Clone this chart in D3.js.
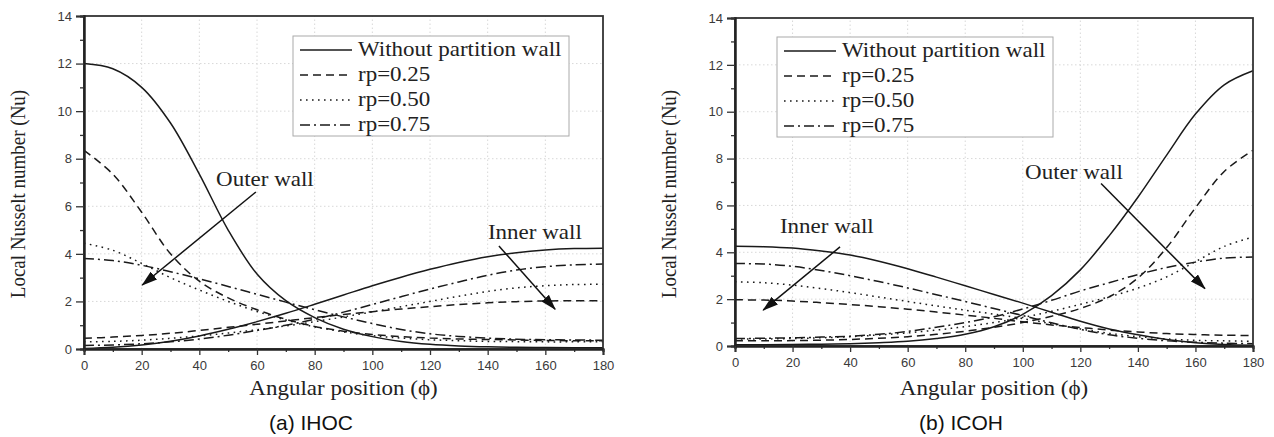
<!DOCTYPE html>
<html>
<head>
<meta charset="utf-8">
<script src="https://cdn.jsdelivr.net/npm/d3@7"></script>
<style>
  html, body { margin: 0; padding: 0; background: #fff; }
  svg { display: block; }
</style>
</head>
<body>
<svg id="chart" width="1274" height="437"></svg>
<script>
// ---------------- DATA ----------------
const angles = [0,10,20,30,40,50,60,70,80,90,100,110,120,130,140,150,160,170,180];
const xTicks = [0,20,40,60,80,100,120,140,160,180];
const yTicks = [0,2,4,6,8,10,12,14];
const seriesNames = ["Without partition wall","rp=0.25","rp=0.50","rp=0.75"];

// (a) IHOC
const ihocOuterNone = [12.0,11.78,11.0,9.5,7.35,5.0,3.15,2.03,1.32,0.83,0.52,0.32,0.2,0.13,0.09,0.07,0.06,0.05,0.05];
const ihocOuter025  = [8.35,7.35,5.75,4.0,2.85,2.15,1.65,1.25,0.95,0.75,0.61,0.52,0.46,0.42,0.4,0.38,0.36,0.35,0.35];
const ihocOuter050  = [4.45,4.15,3.6,3.0,2.48,2.0,1.58,1.22,0.93,0.72,0.56,0.46,0.39,0.35,0.32,0.31,0.3,0.3,0.3];
const ihocOuter075  = [3.8,3.72,3.52,3.25,2.95,2.63,2.3,1.97,1.65,1.35,1.07,0.82,0.64,0.53,0.46,0.41,0.39,0.38,0.37];
const ihocInnerNone = [0.02,0.07,0.17,0.33,0.55,0.83,1.15,1.5,1.88,2.27,2.66,3.02,3.35,3.64,3.88,4.05,4.16,4.22,4.24];
const ihocInner025  = [0.45,0.5,0.57,0.66,0.78,0.91,1.04,1.18,1.32,1.45,1.57,1.68,1.78,1.87,1.94,1.99,2.02,2.03,2.03];
const ihocInner050  = [0.3,0.32,0.37,0.45,0.55,0.67,0.81,0.97,1.15,1.35,1.56,1.78,2.0,2.22,2.42,2.57,2.66,2.71,2.72];
const ihocInner075  = [0.15,0.17,0.22,0.3,0.42,0.58,0.78,1.0,1.25,1.55,1.87,2.2,2.52,2.82,3.1,3.32,3.46,3.54,3.57];

// (b) ICOH
const icohOuterNone = [0.05,0.05,0.06,0.08,0.1,0.14,0.2,0.32,0.5,0.82,1.35,2.15,3.25,4.7,6.35,8.15,9.9,11.15,11.75];
const icohOuter025  = [0.22,0.22,0.23,0.25,0.28,0.33,0.4,0.5,0.63,0.8,1.0,1.27,1.6,2.1,2.9,4.2,5.9,7.45,8.35];
const icohOuter050  = [0.3,0.3,0.32,0.35,0.4,0.47,0.56,0.68,0.83,1.0,1.22,1.48,1.78,2.1,2.47,2.95,3.6,4.25,4.65];
const icohOuter075  = [0.32,0.33,0.35,0.38,0.42,0.5,0.62,0.8,1.0,1.25,1.58,1.95,2.35,2.7,3.05,3.35,3.58,3.75,3.8];
const icohInnerNone = [4.26,4.24,4.18,4.05,3.88,3.62,3.3,2.94,2.57,2.2,1.83,1.44,1.06,0.73,0.48,0.28,0.14,0.06,0.03];
const icohInner025  = [1.97,1.96,1.92,1.85,1.77,1.68,1.57,1.45,1.32,1.18,1.03,0.9,0.79,0.68,0.6,0.53,0.49,0.46,0.45];
const icohInner050  = [2.74,2.7,2.6,2.45,2.28,2.09,1.9,1.71,1.53,1.36,1.17,0.95,0.73,0.54,0.4,0.3,0.24,0.22,0.2];
const icohInner075  = [3.52,3.5,3.4,3.22,3.0,2.75,2.48,2.19,1.9,1.6,1.3,0.99,0.71,0.48,0.33,0.22,0.16,0.12,0.1];

// annotations: [label, textAngle, textValue, arrowFromAngle, arrowFromValue, arrowToAngle, arrowToValue]
const ihocNotes = [
  ["Outer wall", 45.8, 6.85, 59.6, 6.6, 20.2, 2.69],
  ["Inner wall", 140.1, 4.62, 143.9, 4.33, 163.4, 1.67]
];
const icohNotes = [
  ["Inner wall", 15.6, 4.83, 36.5, 4.23, 9.8, 1.53],
  ["Outer wall", 100.8, 7.11, 127.2, 6.94, 163.3, 2.45]
];

// ---------------- DRAW ----------------
const svg = d3.select("#chart");
const dashes = [null, "8,5", "1.6,4.4", "10,4,2,4"];
const SERIF = "'Liberation Serif','Times New Roman',serif";
const SANS = "'Liberation Sans',Arial,sans-serif";
const STRETCH = 1.15;

const defs = svg.append("defs");
defs.append("marker")
  .attr("id","arrowhead")
  .attr("viewBox","0 0 16 10")
  .attr("refX",15).attr("refY",5)
  .attr("markerWidth",16).attr("markerHeight",10)
  .attr("markerUnits","userSpaceOnUse")
  .attr("orient","auto")
  .append("path").attr("d","M0,0 L16,5 L0,10 Z").attr("fill","#111");

function stretchedText(g, x, y, txt, size, anchor) {
  return g.append("text")
    .attr("transform", `translate(${x},${y}) scale(${STRETCH},1)`)
    .attr("text-anchor", anchor || "start")
    .attr("font-family", SERIF)
    .attr("font-size", size)
    .attr("fill", "#222")
    .text(txt);
}

function drawPanel(p) {
  const x = d3.scaleLinear().domain([0,180]).range([p.left, p.right]);
  const y = d3.scaleLinear().domain([0,14]).range([p.bottom, p.top]);
  const g = svg.append("g");

  // grid
  g.append("g").selectAll("line").data(xTicks.slice(1,-1)).join("line")
    .attr("x1", d=>x(d)).attr("x2", d=>x(d)).attr("y1", y(0)).attr("y2", y(14))
    .attr("stroke","#d8d8d8").attr("stroke-width",1).attr("stroke-dasharray","1.5,2.5");
  g.append("g").selectAll("line").data(yTicks.slice(1,-1)).join("line")
    .attr("x1", x(0)).attr("x2", x(180)).attr("y1", d=>y(d)).attr("y2", d=>y(d))
    .attr("stroke","#d8d8d8").attr("stroke-width",1).attr("stroke-dasharray","1.5,2.5");

  // series
  const line = d3.line().x((d,i)=>x(angles[i])).y(d=>y(d)).curve(d3.curveCatmullRom.alpha(0.5));
  p.series.forEach((s,i) => {
    g.append("path").attr("d", line(s))
      .attr("fill","none").attr("stroke","#1a1a1a").attr("stroke-width",1.5)
      .attr("stroke-dasharray", dashes[i % 4]);
  });

  // frame
  g.append("rect").attr("x", x(0)).attr("y", y(14))
    .attr("width", x(180)-x(0)).attr("height", y(0)-y(14))
    .attr("fill","none").attr("stroke","#333").attr("stroke-width",1.8);

  // axes
  const styleAxis = a => {
    a.select(".domain").attr("stroke","#222").attr("stroke-width",2);
    a.selectAll(".tick line").attr("stroke","#333").attr("stroke-width",1.3);
    a.selectAll(".tick text").attr("fill","#3a3a3a").attr("font-family",SANS).attr("font-size",13);
  };
  const minorY = d3.range(1,14,2), minorX = d3.range(10,180,20);
  g.append("g").attr("transform",`translate(${x(0)},0)`)
    .call(d3.axisLeft(y).tickValues(minorY).tickSize(4).tickFormat("")).call(styleAxis);
  g.append("g").attr("transform",`translate(${x(0)},0)`)
    .call(d3.axisLeft(y).tickValues(yTicks).tickSize(8).tickPadding(4)).call(styleAxis);
  g.append("g").attr("transform",`translate(0,${y(0)})`)
    .call(d3.axisBottom(x).tickValues(minorX).tickSize(3).tickFormat("")).call(styleAxis);
  g.append("g").attr("transform",`translate(0,${y(0)})`)
    .call(d3.axisBottom(x).tickValues(xTicks).tickSize(6).tickPadding(6)).call(styleAxis);

  // axis titles
  stretchedText(g, (p.left+p.right)/2, 395, "Angular position (\u03D5)", 20, "middle");
  g.append("text")
    .attr("transform", `translate(${p.left-59},194) rotate(-90) scale(1,${STRETCH})`)
    .attr("text-anchor","middle").attr("font-family",SERIF).attr("font-size",19)
    .attr("fill","#222").text("Local Nusselt number (Nu)");

  // legend
  const lg = g.append("g").attr("transform",`translate(${p.legendX},${p.legendY})`);
  lg.append("rect").attr("width",276).attr("height",100)
    .attr("fill","#fff").attr("stroke","#aaa").attr("stroke-width",1);
  seriesNames.forEach((name,i) => {
    const cy = 14 + i*25;
    lg.append("line").attr("x1",7).attr("x2",59).attr("y1",cy).attr("y2",cy)
      .attr("stroke","#1a1a1a").attr("stroke-width",1.5).attr("stroke-dasharray",dashes[i]);
    stretchedText(lg, 65, cy+6, name, 20, "start");
  });

  // annotations
  p.notes.forEach(n => {
    stretchedText(g, x(n[1]), y(n[2]), n[0], 20, "start");
    g.append("line")
      .attr("x1", x(n[3])).attr("y1", y(n[4])).attr("x2", x(n[5])).attr("y2", y(n[6]))
      .attr("stroke","#111").attr("stroke-width",1.5).attr("marker-end","url(#arrowhead)");
  });

  // caption
  svg.append("text").attr("x", p.captionX).attr("y", 430).attr("text-anchor","middle")
    .attr("font-family", SANS).attr("font-size", 21).attr("fill","#111").text(p.caption);
}

drawPanel({
  left: 84, right: 603, top: 16, bottom: 349,
  series: [ihocOuterNone, ihocOuter025, ihocOuter050, ihocOuter075,
           ihocInnerNone, ihocInner025, ihocInner050, ihocInner075],
  notes: ihocNotes, legendX: 293, legendY: 36,
  caption: "(a) IHOC", captionX: 311
});
drawPanel({
  left: 735, right: 1253, top: 18, bottom: 346,
  series: [icohOuterNone, icohOuter025, icohOuter050, icohOuter075,
           icohInnerNone, icohInner025, icohInner050, icohInner075],
  notes: icohNotes, legendX: 777, legendY: 37,
  caption: "(b) ICOH", captionX: 961
});
</script>
</body>
</html>
